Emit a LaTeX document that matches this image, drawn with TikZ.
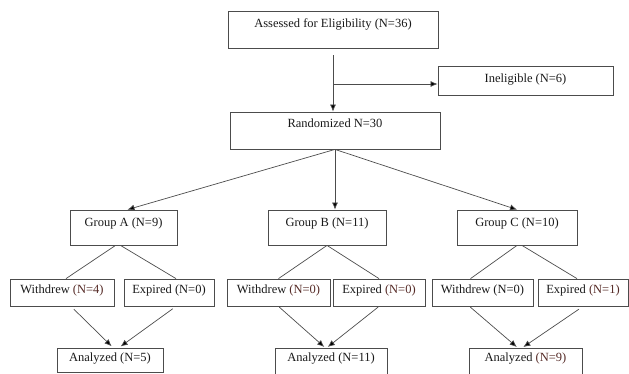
\documentclass[tikz,border=0pt]{standalone}
\usepackage{fontspec}
\setmainfont{Liberation Serif}
\usetikzlibrary{arrows.meta}
\definecolor{nbrown}{RGB}{85,42,38}
\tikzset{
    box/.style={draw=black!70, line width=0.8pt, inner sep=0pt, text=black!90,
        font=\fontsize{12.5}{15}\selectfont},
    toprow/.style={box, text height=16pt, text depth=19pt},
    midrow/.style={box, text height=14pt, text depth=13pt},
    lowrow/.style={box, text height=13pt, text depth=11pt},
    link/.style={draw=black!70, line width=0.7pt},
    arr/.style={link, -{Latex[length=7pt,width=6pt,fill=black]}}
}
\begin{document}
\begin{tikzpicture}[x=1pt, y=-1pt]
            \useasboundingbox (0,0) rectangle (629,373);

            \node[box, minimum width=210pt, text height=16pt, text depth=21pt] (assessed) at (333, 29.5) {Assessed for Eligibility (N=36)};
            \node[box, minimum width=175pt, text height=16pt, text depth=13pt] (inelig) at (525.5, 80.5) {Ineligible (N=6)};
            \node[box, minimum width=210pt, text height=15pt, text depth=22pt] (random) at (335, 130.5) {Randomized N=30};

            \node[toprow, minimum width=107pt] (groupA) at (123.5, 227.5) {Group A (N=9)};
            \node[toprow, minimum width=118pt] (groupB) at (327, 227.5) {Group B (N=11)};
            \node[toprow, minimum width=120pt] (groupC) at (517, 227.5) {Group C (N=10)};

            \node[midrow, minimum width=104pt] (withA) at (62, 292.5) {Withdrew \textcolor{nbrown}{(N=4)}};
            \node[midrow, minimum width=90pt] (expA) at (169, 292.5) {Expired (N=0)};
            \node[midrow, minimum width=103pt] (withB) at (278.5, 292.5) {Withdrew \textcolor{nbrown}{(N=0)}};
            \node[midrow, minimum width=92pt] (expB) at (379, 292.5) {Expired \textcolor{nbrown}{(N=0)}};
            \node[midrow, minimum width=101pt] (withC) at (482.5, 292.5) {Withdrew (N=0)};
            \node[midrow, minimum width=90pt] (expC) at (583, 292.5) {Expired \textcolor{nbrown}{(N=1)}};

            \node[lowrow, minimum width=106pt] (anaA) at (110, 360) {Analyzed (N=5)};
            \node[lowrow, minimum width=112pt, text depth=13pt] (anaB) at (331, 361) {Analyzed (N=11)};
            \node[lowrow, minimum width=113pt, text depth=13pt] (anaC) at (525.5, 361) {Analyzed \textcolor{nbrown}{(N=9)}};

            \coordinate (split) at (333, 84);
            \draw[arr, shorten <=7pt] (assessed.south) -- (assessed.south |- random.north);
            \draw[arr] (split) -- (split -| inelig.west);

            \draw[arr] (random.south) -- ([xshift=4pt]groupA.north);
            \draw[arr] (random.south) -- (random.south |- groupB.north);
            \draw[arr] (random.south) -- (groupC.north);

            \draw[link] ([xshift=-8pt]groupA.south) -- ([xshift=4pt]withA.north);
            \draw[link] ([xshift=-3pt]groupA.south) -- ([xshift=7pt]expA.north);
            \draw[link] (groupB.south) -- (withB.north);
            \draw[link] (groupB.south) -- (expB.north);
            \draw[link] (groupC.south) -- ([xshift=-12pt]withC.north);
            \draw[link] ([xshift=5pt]groupC.south) -- ([xshift=-6pt]expC.north);

            \draw[arr, shorten <=4pt, shorten >=2pt] ([xshift=9pt]withA.south) -- ([xshift=3pt]anaA.north);
            \draw[arr, shorten <=4pt, shorten >=2pt] ([xshift=7pt]expA.south) -- ([xshift=9pt]anaA.north);
            \draw[arr, shorten <=1pt, shorten >=1pt] (withB.south) -- ([xshift=-6pt]anaB.north);
            \draw[arr, shorten <=1pt, shorten >=1pt] (expB.south) -- ([xshift=-4pt]anaB.north);
            \draw[arr, shorten <=1pt, shorten >=1pt] ([xshift=-13pt]withC.south) -- ([xshift=-8pt]anaC.north);
            \draw[arr, shorten <=5pt, shorten >=1pt] (expC.south) -- ([xshift=-3pt]anaC.north);
\end{tikzpicture}
\end{document}
